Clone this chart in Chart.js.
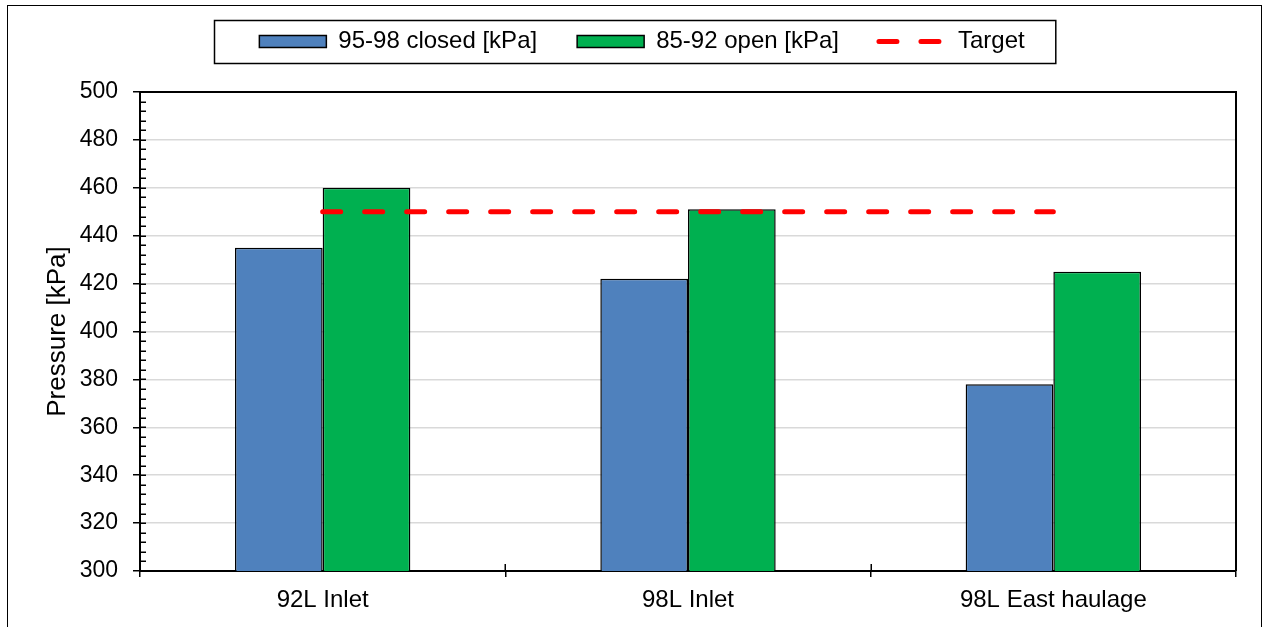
<!DOCTYPE html>
<html>
<head>
<meta charset="utf-8">
<script src="https://cdn.jsdelivr.net/npm/chart.js@4.4.1/dist/chart.umd.min.js"></script>
<style>
    html, body { margin: 0; padding: 0; background: #fff; }
    #wrap { position: relative; width: 1266px; height: 627px; }
</style>
</head>
<body>
<div id="wrap"><canvas id="pressureChart"></canvas></div>
<script>
const categories = ['92L Inlet', '98L Inlet', '98L East haulage'];
const closedValues = [435, 422, 378];
const openValues = [460, 451, 425];
const targetValues = [450, 450, 450];
const seriesLabels = ['95-98 closed [kPa]', '85-92 open [kPa]', 'Target'];
const yAxisTitle = 'Pressure [kPa]';

const Y_MIN = 300;
const Y_MAX = 500;
const Y_STEP = 20;
const Y_MINOR_STEP = 4;

Chart.defaults.font.family = '"Liberation Sans", Arial, sans-serif';
Chart.defaults.color = '#000';

// plot border, inner tick marks, legend frame and outer chart frame
const framePlugin = {
    id: 'frame',
    afterDraw(chart) {
        const { ctx, chartArea: area, scales: { y } } = chart;
        ctx.save();
        ctx.strokeStyle = '#000';

        ctx.lineWidth = 2;
        ctx.beginPath();
        ctx.moveTo(area.left, area.top);
        ctx.lineTo(area.right, area.top);
        ctx.lineTo(area.right, area.bottom);
        ctx.stroke();

        ctx.lineWidth = 1.5;
        ctx.beginPath();
        for (let v = Y_MIN; v <= Y_MAX; v += Y_MINOR_STEP) {
            const py = Math.round(y.getPixelForValue(v)) + 0.25;
            ctx.moveTo(area.left, py);
            ctx.lineTo(area.left + 6, py);
        }
        const step = (area.right - area.left) / categories.length;
        for (let i = 0; i <= categories.length; i++) {
            const px = Math.round(area.left + i * step) + 0.25;
            ctx.moveTo(px, area.bottom - 7);
            ctx.lineTo(px, area.bottom);
        }
        ctx.stroke();

        const boxes = chart.legend.legendHitBoxes;
        if (boxes && boxes.length) {
            const first = boxes[0];
            const last = boxes[boxes.length - 1];
            const left = first.left - 45;
            const right = last.left + last.width + 31;
            const top = first.top - 9.5;
            const bottom = first.top + first.height + 9.5;
            ctx.lineWidth = 1.5;
            ctx.strokeRect(Math.round(left) + 0.5, Math.round(top) + 0.5, right - left, bottom - top);
        }

        ctx.lineWidth = 1;
        ctx.strokeRect(7.5, 5.5, 1254, 700);
        ctx.restore();
    }
};

const ctx = document.getElementById('pressureChart').getContext('2d');
new Chart(ctx, {
    type: 'bar',
    data: {
        labels: categories,
        datasets: [
            {
                label: seriesLabels[0],
                data: closedValues,
                backgroundColor: '#4F81BD',
                borderColor: '#000',
                borderWidth: 1.5,
                pointStyle: 'rect',
                order: 1
            },
            {
                label: seriesLabels[1],
                data: openValues,
                backgroundColor: '#00B050',
                borderColor: '#000',
                borderWidth: 1.5,
                pointStyle: 'rect',
                order: 1
            },
            {
                type: 'line',
                label: seriesLabels[2],
                data: targetValues,
                borderColor: '#FF0000',
                backgroundColor: '#FF0000',
                borderWidth: 5,
                borderDash: [18, 24],
                borderCapStyle: 'round',
                pointRadius: 0,
                pointStyle: 'line',
                fill: false,
                order: 0
            }
        ]
    },
    options: {
        responsive: true,
        maintainAspectRatio: false,
        animation: false,
        layout: { padding: { top: -10.5, left: 48, right: 30, bottom: 0 } },
        datasets: {
            bar: { categoryPercentage: 0.48, barPercentage: 1 }
        },
        plugins: {
            tooltip: { enabled: false },
            title: {
                display: true,
                text: '',
                weight: 500,
                font: { size: 1 },
                padding: { top: 27.3, bottom: 0 }
            },
            legend: {
                position: 'top',
                labels: {
                    font: { size: 24 },
                    color: '#000',
                    usePointStyle: true,
                    pointStyleWidth: 67,
                    boxHeight: 12,
                    padding: 40,
                    sort: (a, b) => a.datasetIndex - b.datasetIndex,
                    generateLabels(chart) {
                        const items = Chart.defaults.plugins.legend.labels.generateLabels(chart);
                        items.forEach(item => {
                            if (item.datasetIndex === 2) {
                                item.lineWidth = 5;
                                item.lineDash = [18, 24];
                                item.lineCap = 'round';
                                item.strokeStyle = '#FF0000';
                                item.pointStyle = 'line';
                            }
                        });
                        return items;
                    }
                }
            }
        },
        scales: {
            x: {
                offset: true,
                grid: {
                    offset: true,
                    drawOnChartArea: false,
                    drawTicks: true,
                    tickLength: 6,
                    color: '#000',
                    lineWidth: 1.5
                },
                border: { display: true, color: '#000', width: 2 },
                ticks: {
                    font: { size: 24 },
                    color: '#000',
                    padding: 9,
                    maxRotation: 0,
                    autoSkip: false
                },
                afterFit(scale) { scale.height = 56; }
            },
            y: {
                min: Y_MIN,
                max: Y_MAX,
                grid: {
                    color: '#D9D9D9',
                    lineWidth: 1.5,
                    drawTicks: true,
                    tickLength: 7,
                    tickColor: '#000',
                    tickWidth: 1.5
                },
                border: { display: true, color: '#000', width: 2 },
                ticks: {
                    stepSize: Y_STEP,
                    font: { size: 23 },
                    color: '#000',
                    padding: 15
                },
                title: {
                    display: true,
                    text: yAxisTitle,
                    font: { size: 26 },
                    color: '#000',
                    padding: { top: -6, bottom: 0 }
                },
                afterFit(scale) { scale.width = 92; }
            }
        }
    },
    plugins: [framePlugin]
});
</script>
</body>
</html>
